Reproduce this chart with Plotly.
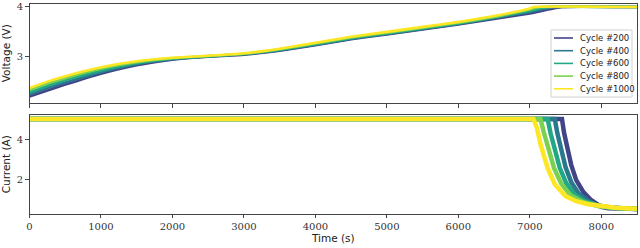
import plotly.graph_objects as go

# ---- data ----
cycles = [200, 400, 600, 800, 1000]
colors = ["#414487", "#2a788e", "#22a884", "#7ad151", "#fde725"]

v_time = {
    200:  [0, 250, 500, 1000, 1500, 2000, 2500, 3000, 3500, 4000, 4500, 5000, 5500, 6000, 6500, 7000, 7450, 8500],
    400:  [0, 250, 500, 1000, 1500, 2000, 2500, 3000, 3500, 4000, 4500, 5000, 5500, 6000, 6500, 7000, 7350, 8500],
    600:  [0, 250, 500, 1000, 1500, 2000, 2500, 3000, 3500, 4000, 4500, 5000, 5500, 6000, 6500, 7000, 7250, 8500],
    800:  [0, 250, 500, 1000, 1500, 2000, 2500, 3000, 3500, 4000, 4500, 5000, 5500, 6000, 6500, 7000, 7150, 8500],
    1000: [0, 250, 500, 1000, 1500, 2000, 2500, 3000, 3500, 4000, 4500, 5000, 5500, 6000, 6500, 7000, 7050, 8500],
}
voltage = {
    200:  [2.20, 2.32, 2.44, 2.66, 2.83, 2.94, 3.00, 3.04, 3.12, 3.23, 3.35, 3.45, 3.55, 3.65, 3.76, 3.87, 4.0, 4.0],
    400:  [2.24, 2.37, 2.48, 2.69, 2.85, 2.95, 3.005, 3.05, 3.13, 3.24, 3.36, 3.46, 3.56, 3.66, 3.78, 3.90, 4.0, 4.0],
    600:  [2.28, 2.41, 2.53, 2.72, 2.87, 2.96, 3.01, 3.055, 3.14, 3.25, 3.37, 3.47, 3.57, 3.67, 3.79, 3.92, 4.0, 4.0],
    800:  [2.33, 2.46, 2.57, 2.76, 2.89, 2.97, 3.015, 3.06, 3.15, 3.265, 3.385, 3.485, 3.585, 3.685, 3.80, 3.95, 4.0, 4.0],
    1000: [2.37, 2.50, 2.61, 2.79, 2.91, 2.98, 3.02, 3.07, 3.16, 3.28, 3.40, 3.50, 3.60, 3.70, 3.82, 3.97, 4.0, 4.0],
}

i_time = {
    200:  [0, 7450, 7480, 7520, 7580, 7650, 7750, 7850, 7950, 8000, 8100, 8300, 8500],
    400:  [0, 7350, 7385, 7430, 7500, 7580, 7680, 7800, 7950, 8100, 8300, 8500],
    600:  [0, 7250, 7290, 7340, 7420, 7510, 7620, 7760, 7950, 8150, 8500],
    800:  [0, 7150, 7195, 7250, 7340, 7440, 7570, 7730, 7950, 8200, 8500],
    1000: [0, 7050, 7100, 7150, 7250, 7350, 7500, 7650, 7800, 8000, 8200, 8500],
}
current = {
    200:  [5.0, 5.0, 4.3, 3.6, 2.7, 1.95, 1.35, 0.98, 0.72, 0.62, 0.55, 0.52, 0.51],
    400:  [5.0, 5.0, 4.3, 3.55, 2.6, 1.85, 1.3, 0.95, 0.70, 0.58, 0.53, 0.51],
    600:  [5.0, 5.0, 4.3, 3.55, 2.55, 1.8, 1.25, 0.92, 0.68, 0.57, 0.515],
    800:  [5.0, 5.0, 4.35, 3.6, 2.55, 1.78, 1.2, 0.88, 0.66, 0.56, 0.52],
    1000: [5.0, 5.0, 4.55, 3.75, 2.55, 1.75, 1.15, 0.90, 0.76, 0.64, 0.57, 0.52],
}

x_ticks = [0, 1000, 2000, 3000, 4000, 5000, 6000, 7000, 8000]
v_ticks = [3, 4]
i_ticks = [2, 4]

W, H = 640, 248

# ---- figure ----
fig = go.Figure()
for c, col in zip(cycles, colors):
    fig.add_trace(go.Scatter(x=v_time[c], y=voltage[c], mode="lines",
                             line=dict(color=col, width=2.6, shape="spline", smoothing=0.4),
                             name=f"Cycle #{c}",
                             xaxis="x", yaxis="y", showlegend=False, hoverinfo="skip"))
for c, col in zip(cycles, colors):
    fig.add_trace(go.Scatter(x=i_time[c], y=current[c], mode="lines",
                             line=dict(color=col, width=4.5), name=f"Cycle #{c}",
                             xaxis="x2", yaxis="y2", showlegend=False, hoverinfo="skip"))

serif = "DejaVu Serif"
sans = "DejaVu Sans"
axcol = "#444444"
common_x = dict(range=[0, 8500], domain=[29.5 / W, 637 / W], showline=True, mirror=True,
                linecolor=axcol, linewidth=1, ticks="outside", ticklen=3.5, tickcolor=axcol,
                tickvals=x_ticks, showgrid=False, zeroline=False, automargin=False,
                tickfont=dict(family=serif, size=10, color="#333"))

fig.update_layout(
    width=W, height=H,
    margin=dict(l=0, r=0, t=0, b=0),
    paper_bgcolor="white", plot_bgcolor="white",
    showlegend=False,
    xaxis=dict(**common_x, anchor="y", showticklabels=False),
    xaxis2=dict(**common_x, anchor="y2", showticklabels=True,
                title=dict(text="Time (s)", font=dict(family=sans, size=10.5, color="#222"), standoff=3)),
    yaxis=dict(range=[2.07, 4.07], domain=[(H - 103) / H, (H - 3.5) / H],
               showline=True, mirror=True, linecolor=axcol, linewidth=1,
               ticks="outside", ticklen=3.5, tickcolor=axcol, tickvals=v_ticks,
               showgrid=False, zeroline=False, automargin=False,
               tickfont=dict(family=serif, size=10, color="#333"),
               title=dict(text="Voltage (V)", font=dict(family=sans, size=10.5, color="#222"), standoff=4)),
    yaxis2=dict(range=[0.285, 5.2], domain=[(H - 213.5) / H, (H - 115) / H],
                showline=True, mirror=True, linecolor=axcol, linewidth=1,
                ticks="outside", ticklen=3.5, tickcolor=axcol, tickvals=i_ticks,
                showgrid=False, zeroline=False, automargin=False,
                tickfont=dict(family=serif, size=10, color="#333"),
                title=dict(text="Current (A)", font=dict(family=sans, size=10.5, color="#222"), standoff=4)),
)

# ---- manual legend (compact, like matplotlib) ----
lx0, lx1, ly0, ly1 = 551, 632, 30, 97
fig.add_shape(type="rect", xref="paper", yref="paper",
              x0=lx0 / W, x1=lx1 / W, y0=1 - ly0 / H, y1=1 - ly1 / H,
              line=dict(color="#d0d0d0", width=1), fillcolor="rgba(255,255,255,0.85)", layer="above")
for k, (c, col) in enumerate(zip(cycles, colors)):
    yy = 38 + k * 12.7
    fig.add_shape(type="line", xref="paper", yref="paper",
                  x0=554 / W, x1=573 / W, y0=1 - yy / H, y1=1 - yy / H,
                  line=dict(color=col, width=1.6), layer="above")
    fig.add_annotation(xref="paper", yref="paper", x=578 / W, y=1 - yy / H,
                       xanchor="left", yanchor="middle", showarrow=False,
                       text=f"Cycle #{c}", font=dict(family=sans, size=8.5, color="#222"))

fig.write_html("out.html", config={"displayModeBar": False},
               post_script="document.body.style.margin='0';document.body.style.padding='0';")
